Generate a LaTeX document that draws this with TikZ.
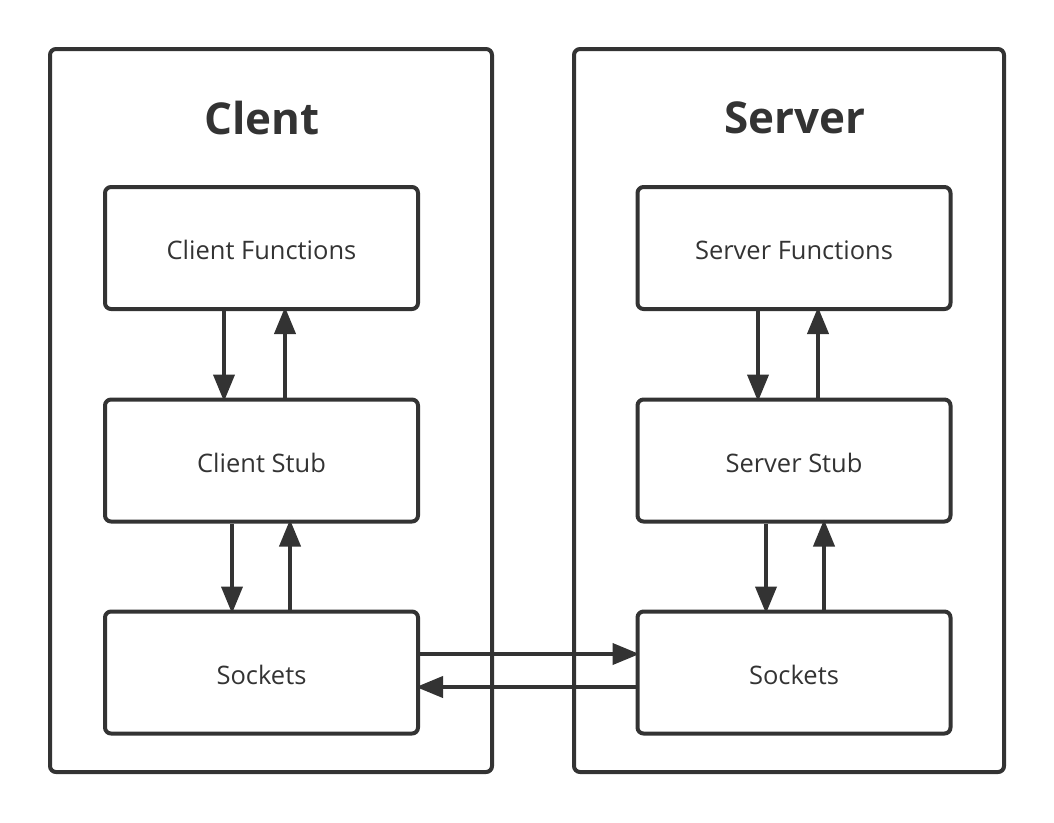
\documentclass[tikz,border=0pt]{standalone}
\usepackage{fontspec}
\setmainfont{Open Sans}
\usetikzlibrary{arrows.meta}
\definecolor{ink}{HTML}{333333}

\begin{document}
\begin{tikzpicture}[>={Triangle[length=5.4mm,width=4.2mm]},line join=round,
  side/.style={draw=ink,line width=0.8mm,rounded corners=1.2mm,minimum height=14.46cm},
  layer/.style={draw=ink,line width=0.8mm,rounded corners=1.2mm,minimum width=6.26cm,minimum height=2.44cm,
    text=ink,text height=13.4pt,text depth=0pt,font=\fontsize{14.5}{17}\selectfont},
  title/.style={text=ink,font=\fontsize{25}{30}\selectfont\bfseries},
  flow/.style={->,draw=ink,fill=ink,line width=0.8mm,shorten >=-0.8mm}]
\useasboundingbox (0,0) rectangle (21.08,-16.44);
% two sides
\node[side,minimum width=8.84cm] (client) at (5.42,-8.21) {};
\node[side,minimum width=8.6cm] (server) at (15.78,-8.21) {};
\node[title] (ctitle) at (5.24,-2.36) {Clent};
\node[title] (stitle) at (15.9,-2.36) {Server};
% client layers
\node[layer] (cfun) at (5.23,-4.96) {Client Functions};
\node[layer] (cstub) at (5.23,-9.21) {Client Stub};
\node[layer] (csock) at (5.23,-13.45) {Sockets};
% server layers
\node[layer] (sfun) at (15.88,-4.96) {Server Functions};
\node[layer] (sstub) at (15.88,-9.21) {Server Stub};
\node[layer] (ssock) at (15.88,-13.45) {Sockets};
% calls down, results up
\draw[flow] ([xshift=-7.5mm]cfun.south) -- ([xshift=-7.5mm]cstub.north);
\draw[flow] ([xshift=4.7mm]cstub.north) -- ([xshift=4.7mm]cfun.south);
\draw[flow] ([xshift=-5.9mm]cstub.south) -- ([xshift=-5.9mm]csock.north);
\draw[flow] ([xshift=5.7mm]csock.north) -- ([xshift=5.7mm]cstub.south);
\draw[flow] ([xshift=-7.2mm]sfun.south) -- ([xshift=-7.2mm]sstub.north);
\draw[flow] ([xshift=4.8mm]sstub.north) -- ([xshift=4.8mm]sfun.south);
\draw[flow] ([xshift=-5.6mm]sstub.south) -- ([xshift=-5.6mm]ssock.north);
\draw[flow] ([xshift=6mm]ssock.north) -- ([xshift=6mm]sstub.south);
% network
\draw[flow] ([yshift=3.7mm]csock.east) -- ([yshift=3.7mm]ssock.west);
\draw[flow] ([yshift=-2.9mm]ssock.west) -- ([yshift=-2.9mm]csock.east);
\end{tikzpicture}
\end{document}
